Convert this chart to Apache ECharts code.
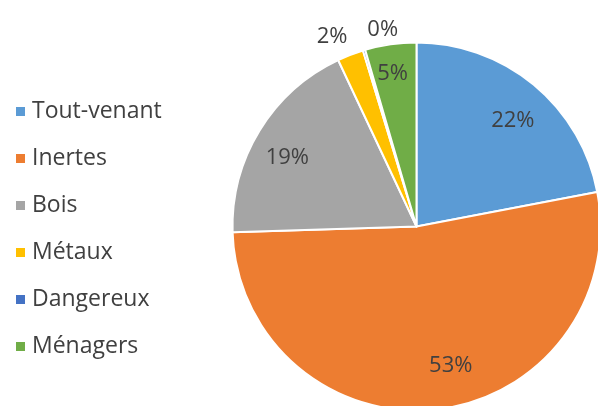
<!DOCTYPE html>
<html>
<head>
<meta charset="utf-8">
<script src="https://cdn.jsdelivr.net/npm/echarts@6/dist/echarts.min.js"></script>
<style>html,body{margin:0;padding:0;background:#fff;}#c{width:598px;height:406px;}</style>
</head>
<body>
<div id="c"></div>
<script>
const categories = ['Tout-venant', 'Inertes', 'Bois', 'Métaux', 'Dangereux', 'Ménagers'];
const values = [22.0, 52.5, 18.5, 2.3, 0.2, 4.5];
const colors = ['#5B9BD5', '#ED7D31', '#A5A5A5', '#FFC000', '#4472C4', '#70AD47'];
const outsideLabels = ['Métaux', 'Dangereux'];

const font = '"Open Sans", sans-serif';
const chart = echarts.init(document.getElementById('c'), null, {renderer: 'canvas'});
const center = [416.5, 226.5];
const R = 184;
const outsideLine = {
  'Métaux': {length: 19, length2: -9},
  'Dangereux': {length: 21, length2: -45}
};
const innerNudge = {
  'Tout-venant': [2, 8],
  'Inertes': [18, -8],
  'Bois': [-3, 9],
  'Ménagers': [-3, -6]
};

const mainData = categories.map((n, i) => {
  const out = outsideLabels.includes(n);
  const ln = outsideLine[n] || {length: 10, length2: 0};
  return {
    name: n, value: values[i],
    itemStyle: {color: colors[i]},
    label: {show: out},
    labelLine: {show: false, length: ln.length, length2: ln.length2}
  };
});
const overlayData = categories.map((n, i) => ({
  name: n, value: values[i],
  label: {show: !outsideLabels.includes(n), offset: innerNudge[n] || [0, 0]}
}));

chart.setOption({
  animation: false,
  legend: {
    orient: 'vertical',
    left: 9,
    top: 94.5,
    icon: 'rect',
    itemWidth: 11,
    itemHeight: 11,
    itemGap: 23,
    selectedMode: false,
    textStyle: {fontFamily: font, fontSize: 23, color: '#404040', lineHeight: 24, padding: [0, 0, 0, 1]},
    data: categories.map((n, i) => ({name: n, itemStyle: {color: colors[i]}}))
  },
  series: [
    {
      type: 'pie',
      center: center,
      radius: [0, R],
      startAngle: 90,
      clockwise: true,
      avoidLabelOverlap: false,
      labelLayout: {hideOverlap: false},
      silent: true,
      itemStyle: {borderColor: '#ffffff', borderWidth: 2},
      label: {position: 'outside', formatter: p => Math.round(p.value) + '%', fontFamily: font, fontSize: 22, color: '#404040'},
      data: mainData
    },
    {
      type: 'pie',
      center: center,
      radius: [106, R],
      startAngle: 90,
      clockwise: true,
      avoidLabelOverlap: false,
      labelLayout: {hideOverlap: false},
      silent: true,
      legendHoverLink: false,
      itemStyle: {color: 'rgba(0,0,0,0)', borderWidth: 0},
      label: {position: 'inside', formatter: p => Math.round(p.value) + '%', fontFamily: font, fontSize: 22, color: '#404040'},
      labelLine: {show: false},
      data: overlayData
    }
  ]
});
</script>
</body>
</html>
